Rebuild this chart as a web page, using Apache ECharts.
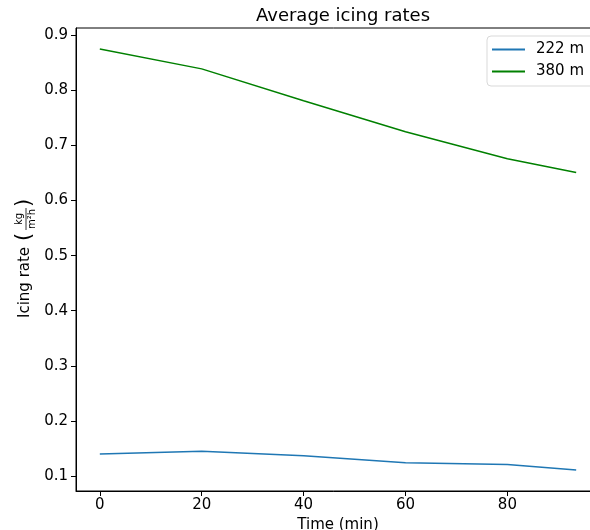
<!DOCTYPE html>
<html>
<head>
<meta charset="utf-8">
<script src="https://cdn.jsdelivr.net/npm/echarts@6/dist/echarts.min.js"></script>
<style>
  html, body { margin: 0; padding: 0; background: #fff; }
  #main { width: 590px; height: 530px; }
</style>
</head>
<body>
<div id="main"></div>
<script>
// time points (min)
var times = [0, 20, 40, 60, 80, 93.5];
// average icing rate per height
var rate222 = [0.140, 0.145, 0.137, 0.124, 0.121, 0.111];
var rate380 = [0.875, 0.839, 0.781, 0.725, 0.676, 0.651];
var xTicks = [0, 20, 40, 60, 80];
var yTicks = [0.1, 0.2, 0.3, 0.4, 0.5, 0.6, 0.7, 0.8, 0.9];
var seriesNames = ['222 m', '380 m'];

var font = 'DejaVu Sans';

function pairs(xs, ys) {
  return xs.map(function (x, i) { return [x, ys[i]]; });
}

var chart = echarts.init(document.getElementById('main'));

var option = {
  animation: false,
  backgroundColor: '#fff',
  title: {
    text: 'Average icing rates',
    left: 338,
    textAlign: 'center',
    top: 2,
    textStyle: { fontFamily: font, fontSize: 18, fontWeight: 'normal', color: '#000' }
  },
  legend: {
    orient: 'vertical',
    left: 487,
    top: 36,
    padding: [5, 10, 6, 5],
    itemGap: 5,
    itemWidth: 33,
    itemHeight: 2,
    icon: 'rect',
    backgroundColor: '#fff',
    borderColor: '#d9d9d9',
    borderWidth: 1,
    borderRadius: 4,
    data: seriesNames,
    textStyle: { fontFamily: font, fontSize: 15, color: '#000', padding: [0, 0, 0, 6], lineHeight: 17 }
  },
  grid: {
    left: 76,
    top: 28,
    right: -10,
    bottom: 39,
    outerBoundsMode: 'none',
    show: true,
    borderColor: '#000',
    borderWidth: 1,
    backgroundColor: 'transparent'
  },
  xAxis: {
    type: 'value',
    min: -4.675,
    max: 98.175,
    name: 'Time (min)',
    nameLocation: 'middle',
    nameGap: 25,
    nameTextStyle: { fontFamily: font, fontSize: 15, color: '#000' },
    axisLine: { show: true, onZero: false, lineStyle: { color: '#000', width: 1 } },
    axisTick: { show: true, inside: false, length: 5, lineStyle: { color: '#000' }, customValues: xTicks },
    axisLabel: { fontFamily: font, fontSize: 15, color: '#000', margin: 7, customValues: xTicks },
    splitLine: { show: false }
  },
  yAxis: {
    type: 'value',
    min: 0.0728,
    max: 0.9132,
    axisLine: { show: true, onZero: false, lineStyle: { color: '#000', width: 1 } },
    axisTick: { show: true, inside: false, length: 5, lineStyle: { color: '#000' }, customValues: yTicks },
    axisLabel: {
      fontFamily: font, fontSize: 15, color: '#000', margin: 8, customValues: yTicks,
      formatter: function (v) { return v.toFixed(1); }
    },
    splitLine: { show: false }
  },
  graphic: [{
    type: 'group',
    x: 25,
    y: 318,
    rotation: Math.PI / 2,
    children: [
      { type: 'text', style: { text: 'Icing rate ', x: 0, y: 0, font: '15px "DejaVu Sans"', fill: '#000', textAlign: 'left', textVerticalAlign: 'middle' } },
      { type: 'text', style: { text: '(', x: 77, y: 0, font: '21px "DejaVu Sans"', fill: '#000', textAlign: 'left', textVerticalAlign: 'middle' } },
      { type: 'text', style: { text: 'kg', x: 99, y: -6, font: '10px "DejaVu Sans"', fill: '#000', textAlign: 'center', textVerticalAlign: 'middle' } },
      { type: 'line', shape: { x1: 88, y1: 1, x2: 110, y2: 1 }, style: { stroke: '#000', lineWidth: 0.8 } },
      { type: 'text', style: { text: 'm²h', x: 99, y: 7, font: '10px "DejaVu Sans"', fill: '#000', textAlign: 'center', textVerticalAlign: 'middle' } },
      { type: 'text', style: { text: ')', x: 111, y: 0, font: '21px "DejaVu Sans"', fill: '#000', textAlign: 'left', textVerticalAlign: 'middle' } }
    ]
  }],
  series: [
    {
      name: seriesNames[0],
      type: 'line',
      data: pairs(times, rate222),
      symbol: 'none',
      color: '#1f77b4',
      lineStyle: { width: 1.5, color: '#1f77b4' }
    },
    {
      name: seriesNames[1],
      type: 'line',
      data: pairs(times, rate380),
      symbol: 'none',
      color: '#008000',
      lineStyle: { width: 1.5, color: '#008000' }
    }
  ]
};

chart.setOption(option);
</script>
</body>
</html>
